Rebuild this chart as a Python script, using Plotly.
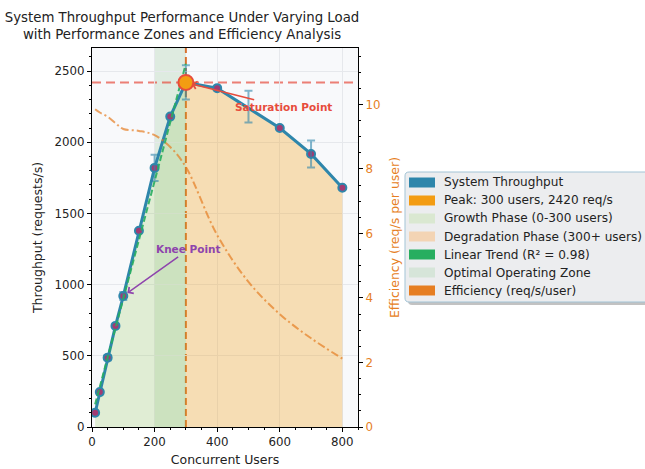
import numpy as np
import plotly.graph_objects as go

# ---------------- data ----------------
users = [10, 25, 50, 75, 100, 150, 200, 250, 300, 400, 600, 700, 800]
throughput = [100, 245, 487, 710, 920, 1378, 1820, 2180, 2420, 2380, 2100, 1918, 1680]

err_users = [50, 100, 200, 300, 500, 700]
err_tp = [487, 920, 1820, 2420, 2250, 1918]
err_size = [18, 28, 92, 120, 112, 95]

eff_users = [10, 25, 50, 75, 100, 150, 200, 250, 300, 400, 500, 600, 700, 800]
efficiency = [9.85, 9.75, 9.62, 9.42, 9.24, 9.18, 9.05, 8.68, 8.06, 5.95, 4.5, 3.5, 2.75, 2.12]

peak_users = 300
peak_tp = 2420
optimal_zone = [200, 300]

legend_labels = [
    "System Throughput",
    "Peak: 300 users, 2420 req/s",
    "Growth Phase (0-300 users)",
    "Degradation Phase (300+ users)",
    "Linear Trend (R\u00b2 = 0.98)",
    "Optimal Operating Zone",
    "Efficiency (req/s/user)",
]
legend_colors = ["#2e86ab", "#f39c12", "#dae8d1", "#f3d4b4", "#27ae60", "#d6e5d9", "#e67e22"]

# ---------------- derived ----------------
g_users = [u for u in users if u <= peak_users]
g_tp = [t for u, t in zip(users, throughput) if u <= peak_users]
d_users = [u for u in users if u >= peak_users]
d_tp = [t for u, t in zip(users, throughput) if u >= peak_users]
coef = np.polyfit(g_users, g_tp, 1)
trend = np.polyval(coef, g_users)

FONT = "DejaVu Sans"
W, H = 645, 469
ML, MR, MT, MB = 92, 287, 48, 42
PW, PH = W - ML - MR, H - MT - MB


def pxx(x):
    return (x - ML) / PW


def pxy(y):
    return (H - MB - y) / PH


fig = go.Figure()

fig.add_trace(go.Scatter(x=g_users, y=g_tp, mode="lines", line=dict(width=0),
                         fill="tozeroy", fillcolor="rgba(139,195,74,0.22)",
                         showlegend=False, hoverinfo="skip"))
fig.add_trace(go.Scatter(x=d_users, y=d_tp, mode="lines", line=dict(width=0),
                         fill="tozeroy", fillcolor="rgba(243,156,18,0.3)",
                         showlegend=False, hoverinfo="skip"))
fig.add_trace(go.Scatter(x=users, y=throughput, mode="lines+markers",
                         line=dict(color="#2e86ab", width=3),
                         marker=dict(size=8, color="#a23b72",
                                     line=dict(color="#2e86ab", width=2)),
                         showlegend=False))
fig.add_trace(go.Scatter(x=err_users, y=err_tp, mode="markers",
                         marker=dict(size=1, color="rgba(0,0,0,0)"),
                         error_y=dict(type="data", array=err_size,
                                      color="rgba(46,134,171,0.6)",
                                      thickness=2, width=4),
                         showlegend=False, hoverinfo="skip"))
fig.add_trace(go.Scatter(x=g_users, y=trend, mode="lines",
                         line=dict(color="#27ae60", width=2, dash="6px,3px"),
                         opacity=0.9, showlegend=False))
fig.add_trace(go.Scatter(x=[peak_users], y=[peak_tp], mode="markers",
                         marker=dict(size=15, color="#f39c12",
                                     line=dict(color="#e74c3c", width=2)),
                         showlegend=False))
fig.add_trace(go.Scatter(x=eff_users, y=efficiency, yaxis="y2", mode="lines",
                         line=dict(color="rgba(230,126,34,0.7)", width=2,
                                   dash="8px,3px,2px,3px", shape="spline",
                                   smoothing=1.0),
                         showlegend=False))

shapes = [
    dict(type="rect", xref="x", yref="paper", x0=optimal_zone[0], x1=optimal_zone[1],
         y0=0, y1=1, fillcolor="rgba(76,153,76,0.15)", line=dict(width=0), layer="below"),
    dict(type="line", xref="x", yref="paper", x0=peak_users, x1=peak_users, y0=0, y1=1,
         line=dict(color="rgba(211,84,0,0.8)", width=2, dash="7px,4px"), layer="between"),
    dict(type="line", xref="paper", yref="y", x0=0, x1=1, y0=peak_tp, y1=peak_tp,
         line=dict(color="rgba(231,76,60,0.7)", width=2, dash="9px,5px"), layer="between"),
]

# ----- manual legend (matplotlib-style box) -----
def rrect(x0, y0, x1, y1, r=4):
    pts = [
        ("M", [(x0 + r, y0)]), ("L", [(x1 - r, y0)]), ("Q", [(x1, y0), (x1, y0 + r)]),
        ("L", [(x1, y1 - r)]), ("Q", [(x1, y1), (x1 - r, y1)]), ("L", [(x0 + r, y1)]),
        ("Q", [(x0, y1), (x0, y1 - r)]), ("L", [(x0, y0 + r)]), ("Q", [(x0, y0), (x0 + r, y0)]),
    ]
    s = ""
    for cmd, ps in pts:
        s += cmd + " ".join(f"{pxx(a):.5f},{pxy(b):.5f}" for a, b in ps) + " "
    return s + "Z"


LX0, LY0, LX1, LY1 = 405, 172, 665, 302
shapes.append(dict(type="path", xref="paper", yref="paper", path=rrect(LX0 + 3, LY0 + 3, LX1 + 3, LY1 + 3),
                   fillcolor="rgba(120,120,120,0.45)", line=dict(width=0), layer="above"))
shapes.append(dict(type="path", xref="paper", yref="paper", path=rrect(LX0, LY0, LX1, LY1),
                   fillcolor="#ecedef", line=dict(color="#a3c4d6", width=1), layer="above"))

annotations = []
for i, (lab, col) in enumerate(zip(legend_labels, legend_colors)):
    cy = 182.5 + 18 * i
    shapes.append(dict(type="rect", xref="paper", yref="paper",
                       x0=pxx(409), x1=pxx(435), y0=pxy(cy + 5), y1=pxy(cy - 5),
                       fillcolor=col, line=dict(width=0), layer="above"))
    annotations.append(dict(xref="paper", yref="paper", x=pxx(442), y=pxy(cy),
                            xanchor="left", yanchor="middle", text=lab, showarrow=False,
                            font=dict(family=FONT, size=12.1, color="#222")))

annotations.append(dict(x=peak_users, y=peak_tp, xref="x", yref="y",
                        ax=613, ay=2246, axref="x", ayref="y",
                        text="<b>Saturation Point</b>", showarrow=True,
                        arrowhead=4, arrowsize=1, arrowwidth=1.5, arrowcolor="#e74c3c",
                        standoff=6, font=dict(family=FONT, size=10.5, color="#e74c3c")))
annotations.append(dict(x=users[4], y=throughput[4], xref="x", yref="y",
                        ax=309, ay=1247, axref="x", ayref="y",
                        text="<b>Knee Point</b>", showarrow=True,
                        arrowhead=4, arrowsize=1, arrowwidth=1.5, arrowcolor="#8e44ad",
                        standoff=5, font=dict(family=FONT, size=10.5, color="#8e44ad")))

axis_common = dict(showline=True, linecolor="black", linewidth=1.2,
                   ticks="outside", ticklen=4, tickwidth=1.2, tickcolor="black",
                   tickfont=dict(family=FONT, size=11.8, color="#222"),
                   zeroline=False, automargin=False)

fig.update_layout(
    width=W, height=H,
    margin=dict(l=ML, r=MR, t=MT, b=MB),
    paper_bgcolor="white", plot_bgcolor="#f8f9fb",
    showlegend=False,
    title=dict(text="System Throughput Performance Under Varying Load<br>with Performance Zones and Efficiency Analysis",
               x=182 / W, xref="container", xanchor="center",
               y=1 - 22 / H, yref="container", yanchor="middle",
               font=dict(family=FONT, size=13.3, color="#222")),
    xaxis=dict(range=[0, 850], dtick=200, mirror=True,
               showgrid=True, gridcolor="#e6e8ec", gridwidth=1,
               minor=dict(dtick=50, ticks="outside", ticklen=2, tickwidth=1, tickcolor="black", showgrid=False),
               title=dict(text="Concurrent Users", font=dict(family=FONT, size=12.5, color="#222"), standoff=6),
               **axis_common),
    yaxis=dict(range=[0, 2662], dtick=500,
               showgrid=True, gridcolor="#e6e8ec", gridwidth=1,
               minor=dict(dtick=100, ticks="outside", ticklen=2, tickwidth=1, tickcolor="black", showgrid=False),
               title=dict(text="Throughput (requests/s)", font=dict(family=FONT, size=12.5, color="#222"), standoff=9),
               **axis_common),
    yaxis2=dict(overlaying="y", side="right", range=[0, 11.75], dtick=2,
                showgrid=False, automargin=False,
                minor=dict(dtick=0.5, ticks="outside", ticklen=2, tickwidth=1, tickcolor="black", showgrid=False),
                title=dict(text="Efficiency (req/s per user)", font=dict(family=FONT, size=12.5, color="#e67e22"), standoff=10),
                showline=True, linecolor="black", linewidth=1.2,
                ticks="outside", ticklen=4, tickwidth=1.2, tickcolor="black",
                tickfont=dict(family=FONT, size=11.8, color="#e67e22"), zeroline=False),
    shapes=shapes,
    annotations=annotations,
)

fig.write_html("out.html", config={"displayModeBar": False},
               post_script="document.body.style.margin='0px';")
